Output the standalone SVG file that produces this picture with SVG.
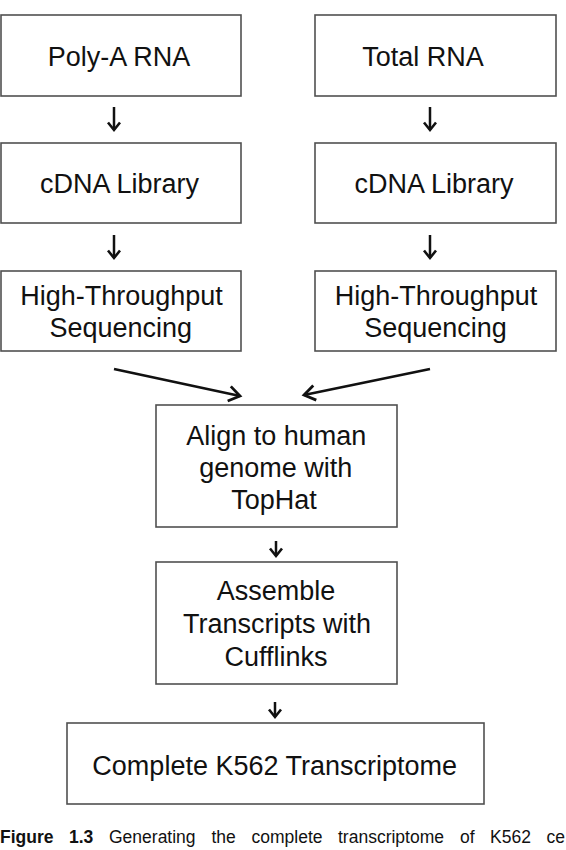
<svg xmlns="http://www.w3.org/2000/svg" width="566" height="850" viewBox="0 0 566 850">
<style>
.box{fill:#fff;stroke:#505050;stroke-width:1.6}
.t{font-family:"Liberation Sans",Arial,sans-serif;font-size:27px;fill:#111;text-anchor:middle}
.cap{font-family:"Liberation Sans",Arial,sans-serif;font-size:17.5px;fill:#111}
.conn{stroke:#111;fill:none}
.sm{stroke-width:2.5;marker-end:url(#hs)}
.lg{stroke-width:2.7;marker-end:url(#hl)}
</style>
<defs>
<marker id="hs" markerUnits="userSpaceOnUse" viewBox="-12 -12 24 24" markerWidth="24" markerHeight="24" refX="0" refY="0" orient="auto">
<path d="M-7.5,-6 L0,0 L-7.5,6" fill="none" stroke="#111" stroke-width="2.6"/>
</marker>
<marker id="hl" markerUnits="userSpaceOnUse" viewBox="-14 -14 28 28" markerWidth="28" markerHeight="28" refX="0" refY="0" orient="auto">
<path d="M-11,-7.5 L0,0 L-11,7.5" fill="none" stroke="#111" stroke-width="2.8"/>
</marker>
</defs>
<rect width="566" height="850" fill="#fff"/>
<g id="connectors">
<line class="conn sm" x1="114" y1="107" x2="114" y2="130"/>
<line class="conn sm" x1="430" y1="107" x2="430" y2="130"/>
<line class="conn sm" x1="114" y1="235" x2="114" y2="258"/>
<line class="conn sm" x1="430" y1="235" x2="430" y2="258"/>
<line class="conn lg" x1="114" y1="369" x2="240" y2="396"/>
<line class="conn lg" x1="430" y1="369" x2="304" y2="395"/>
<line class="conn sm" x1="276" y1="541" x2="276" y2="556"/>
<line class="conn sm" x1="275" y1="702" x2="275" y2="717"/>
</g>
<g id="polyA">
<rect class="box" x="1" y="15" width="240" height="81"/>
<text class="t" x="119" y="66">Poly-A RNA</text>
</g>
<g id="totalRNA">
<rect class="box" x="315" y="15" width="241" height="81"/>
<text class="t" x="423" y="66">Total RNA</text>
</g>
<g id="cdna1">
<rect class="box" x="1" y="143" width="240" height="80"/>
<text class="t" x="119.5" y="193">cDNA Library</text>
</g>
<g id="cdna2">
<rect class="box" x="315" y="143" width="241" height="80"/>
<text class="t" x="434" y="193">cDNA Library</text>
</g>
<g id="hts1">
<rect class="box" x="1" y="271" width="240" height="80"/>
<text class="t" x="121.5" y="305">High-Throughput</text>
<text class="t" x="120.7" y="337">Sequencing</text>
</g>
<g id="hts2">
<rect class="box" x="315" y="271" width="241" height="80"/>
<text class="t" x="436" y="305">High-Throughput</text>
<text class="t" x="435.5" y="337">Sequencing</text>
</g>
<g id="align">
<rect class="box" x="156" y="405" width="241" height="122"/>
<text class="t" x="276.3" y="444.5">Align to human</text>
<text class="t" x="275.7" y="476.5">genome with</text>
<text class="t" x="274" y="508.5">TopHat</text>
</g>
<g id="assemble">
<rect class="box" x="156" y="562" width="241" height="122"/>
<text class="t" x="276" y="600">Assemble</text>
<text class="t" x="277" y="633">Transcripts with</text>
<text class="t" x="276" y="666">Cufflinks</text>
</g>
<g id="complete">
<rect class="box" x="67" y="723" width="417" height="81"/>
<text class="t" x="274.7" y="775">Complete K562 Transcriptome</text>
</g>
<g id="caption">
<text class="cap" y="843"><tspan x="0" font-weight="bold">Figure</tspan><tspan x="69" font-weight="bold">1.3</tspan><tspan x="109">Generating</tspan><tspan x="211.5">the</tspan><tspan x="251.5">complete</tspan><tspan x="338">transcriptome</tspan><tspan x="460">of</tspan><tspan x="490">K562</tspan><tspan x="546.5">ce</tspan></text>
</g>
</svg>
